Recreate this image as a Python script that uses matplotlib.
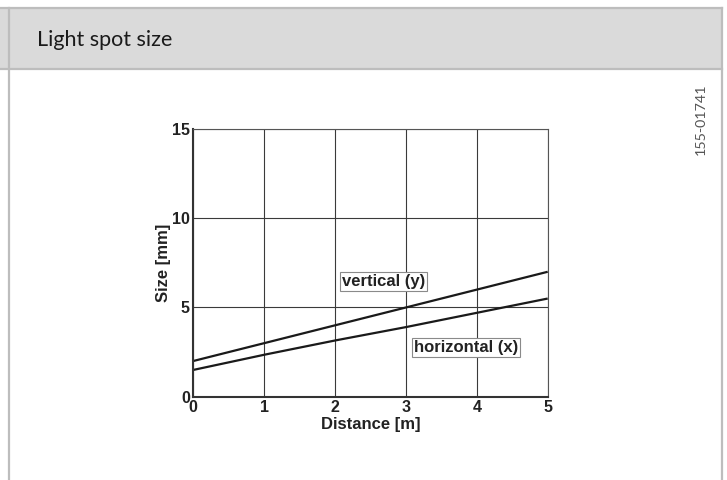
import matplotlib

matplotlib.use("Agg")
import matplotlib.pyplot as plt  # noqa: E402
from matplotlib.lines import Line2D  # noqa: E402
from matplotlib.patches import Rectangle  # noqa: E402

W, H = 727, 480
DPI = 100

distance = [0, 1, 2, 3, 4, 5]
vertical_y = [2.0, 3.0, 4.0, 5.0, 6.0, 7.0]
horizontal_x = [1.5, 2.35, 3.15, 3.9, 4.7, 5.5]
x_ticks = [0, 1, 2, 3, 4, 5]
y_ticks = [0, 5, 10, 15]

TITLE = "Light spot size"
DOC_ID = "155-01741"
CHART_FONT = ["Liberation Sans Narrow", "Liberation Sans", "DejaVu Sans"]
HEAD_FONT = ["Lato", "Open Sans", "DejaVu Sans"]


def px(x, y):
    # pixel coords (top-left origin) -> figure fraction
    return x / W, 1 - y / H


fig = plt.figure(figsize=(W / DPI, H / DPI), dpi=DPI)

# frame: header band and cell borders
border = "#bdbdbd"
fig.patches.append(Rectangle(px(0, 68), 722 / W, 60 / H, transform=fig.transFigure,
                             facecolor="#dadada", edgecolor="none", zorder=0))
for (x0, y0), (x1, y1) in [((0, 7.5), (722, 7.5)), ((0, 68.5), (722, 68.5)),
                           ((8.5, 7.5), (8.5, 480)), ((721.5, 7.5), (721.5, 480))]:
    a, b = px(x0, y0)
    c, d = px(x1, y1)
    fig.lines.append(Line2D([a, c], [b, d], transform=fig.transFigure,
                            color=border, lw=1.6, zorder=1))

fig.text(*px(37, 40), TITLE, family=HEAD_FONT, fontsize=15.5, color="#1a1a1a",
         ha="left", va="center")
fig.text(*px(701, 119), DOC_ID, family=HEAD_FONT, fontsize=10.3, color="#555555",
         rotation=90, ha="center", va="center")

# chart
l, b = px(193.3, 396.7)
r, t = px(547.7, 129)
ax = fig.add_axes([l, b, r - l, t - b])
ax.plot(distance, vertical_y, color="#1a1a1a", lw=1.6, solid_capstyle="butt")
ax.plot(distance, horizontal_x, color="#1a1a1a", lw=1.6, solid_capstyle="butt")
ax.set_xlim(0, 5)
ax.set_ylim(0, 15)
ax.set_xticks(x_ticks)
ax.set_yticks(y_ticks)
ax.grid(True, color="#3a3a3a", lw=0.8)
ax.tick_params(length=0, pad=2.5, labelsize=11.5)
for lab in ax.get_xticklabels() + ax.get_yticklabels():
    lab.set_fontfamily(CHART_FONT)
    lab.set_fontweight("bold")
    lab.set_color("#222222")
for side in ("left", "bottom"):
    ax.spines[side].set_linewidth(1.5)
    ax.spines[side].set_color("#333333")
for side in ("top", "right"):
    ax.spines[side].set_linewidth(0.8)
    ax.spines[side].set_color("#555555")

ax.set_xlabel("Distance [m]", family=CHART_FONT, fontweight="bold",
              fontsize=12, color="#222222", labelpad=1)
ax.set_ylabel("Size [mm]", family=CHART_FONT, fontweight="bold",
              fontsize=12, color="#222222")
ax.yaxis.set_label_coords(-0.063, 0.5)

box = dict(boxstyle="square,pad=0.12", facecolor="white", edgecolor="#8a8a8a", lw=0.8)
ax.text(2.68, 6.43, "vertical (y)", family=CHART_FONT, fontweight="bold",
        fontsize=12, color="#222222", ha="center", va="center", bbox=box)
ax.text(3.85, 2.73, "horizontal (x)", family=CHART_FONT, fontweight="bold",
        fontsize=12, color="#222222", ha="center", va="center", bbox=box)

fig.savefig("out.png", dpi=DPI)
